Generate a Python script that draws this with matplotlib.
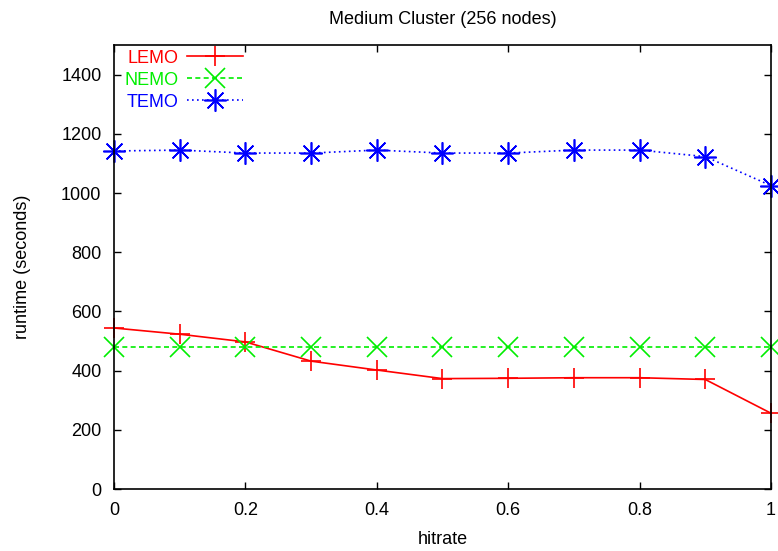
import matplotlib
matplotlib.use("Agg")
import matplotlib.pyplot as plt

plt.rcParams['font.family'] = ['Liberation Sans', 'DejaVu Sans']

hitrate = [0.0, 0.1, 0.2, 0.3, 0.4, 0.5, 0.6, 0.7, 0.8, 0.9, 1.0]
lemo = [544, 523, 497, 432, 402, 373, 374, 376, 376, 370, 256]
nemo = [481, 481, 481, 481, 481, 481, 481, 481, 481, 481, 481]
temo = [1142, 1145, 1135, 1135, 1145, 1135, 1135, 1145, 1145, 1123, 1025]

x_ticks = [0, 0.2, 0.4, 0.6, 0.8, 1]
x_tick_labels = ["0", "0.2", "0.4", "0.6", "0.8", "1"]
y_ticks = [0, 200, 400, 600, 800, 1000, 1200, 1400]

FS = 13

fig = plt.figure(figsize=(7.78, 5.51), dpi=100)
ax = fig.add_axes([0.1465, 0.1125, 0.8445, 0.8058])

ax.plot(hitrate, lemo, color='#ff0000', lw=1.2, ls='-', marker='+',
        markersize=15, markeredgewidth=1.2, label='LEMO', clip_on=False)
ax.plot(hitrate, nemo, color='#00ee00', lw=1.2, ls=(0, (3, 2)), marker='x',
        markersize=15, markeredgewidth=1.2, label='NEMO', clip_on=False)
ax.plot(hitrate, temo, color='#0000ff', lw=1.2, ls=(0, (1, 2)), marker=(8, 2, 0),
        markersize=16, markeredgewidth=1.2, label='TEMO', clip_on=False)

ax.set_xlim(0, 1)
ax.set_ylim(0, 1500)
ax.set_xticks(x_ticks)
ax.set_xticklabels(x_tick_labels)
ax.set_yticks(y_ticks)
ax.tick_params(direction='in', length=5, width=1, top=True, right=True,
               labelsize=FS, pad=9)
for s in ax.spines.values():
    s.set_linewidth(1.2)

ax.set_title("Medium Cluster (256 nodes)", fontsize=FS, pad=15)
ax.set_xlabel("hitrate", fontsize=FS, labelpad=9)
ax.set_ylabel("runtime (seconds)", fontsize=FS, labelpad=22)

leg = ax.legend(loc='upper left', bbox_to_anchor=(0.009, 1.0),
                markerfirst=False, frameon=False,
                fontsize=FS, handlelength=3.1, handletextpad=0.45,
                labelspacing=0.28, borderaxespad=0.05, borderpad=0.2)
for text, line in zip(leg.get_texts(), leg.get_lines()):
    text.set_color(line.get_color())

fig.savefig("out.png", dpi=100)
